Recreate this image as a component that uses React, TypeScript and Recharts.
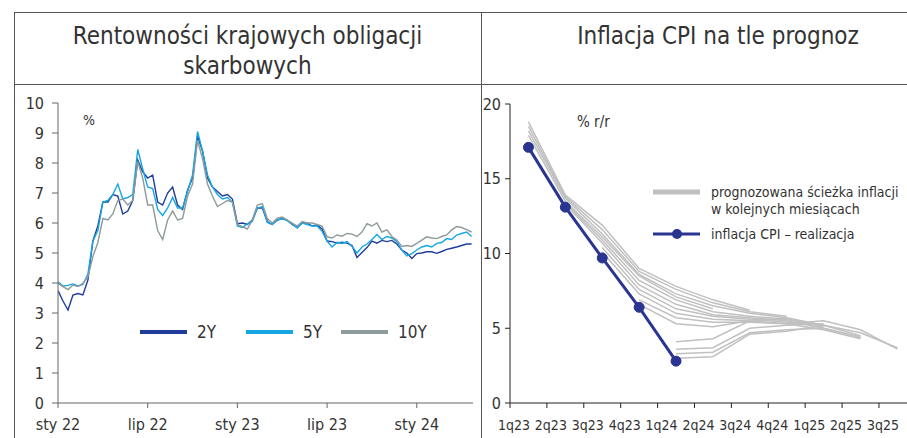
import React from 'react';
import { LineChart, Line, XAxis, YAxis, Legend } from 'recharts';

const FONT = "'Liberation Sans Narrow', 'DejaVu Sans Condensed', sans-serif";
const TEXT = '#333';
const FRAME = '#555';

// --- left panel: bond yields, sampled ~every 10 days from Jan 2022 ---
const YIELD_TICKS = [0, 6, 12, 18, 24];
const YIELD_TICK_LABELS = ['sty 22', 'lip 22', 'sty 23', 'lip 23', 'sty 24'];

const Y2 = [
  3.75, 3.4, 3.1, 3.6, 3.65, 3.6, 4.1, 5.4, 5.9, 6.7, 6.7, 6.95, 6.9, 6.3, 6.4, 6.75,
  8.1, 7.7, 7.5, 7.6, 6.7, 6.6, 7.0, 7.2, 6.6, 6.45, 7.1, 7.5, 8.9, 8.4, 7.5, 7.2,
  7.05, 6.9, 6.95, 6.8, 5.98, 6.0, 5.95, 6.1, 6.5, 6.5, 6.05, 5.95, 6.1, 6.15, 6.1, 5.95,
  5.85, 6.0, 6.0, 5.9, 5.93, 5.8, 5.4, 5.38, 5.33, 5.36, 5.33, 5.25, 4.85, 5.02, 5.18, 5.4,
  5.33, 5.42, 5.38, 5.42, 5.3, 5.1, 5.0, 4.82, 4.98, 5.0, 5.04, 5.04, 4.99, 5.05, 5.12, 5.16,
  5.2, 5.25, 5.3, 5.3,
];
const Y5 = [
  4.04, 3.9, 3.92, 3.97, 3.9, 3.95, 4.3, 5.4, 5.75, 6.7, 6.75, 6.95, 7.3, 6.8, 6.85, 6.95,
  8.45, 7.8, 7.2, 7.15, 6.45, 6.25, 6.5, 6.85, 6.5, 6.5, 7.05, 7.6, 9.05, 8.4, 7.6, 7.2,
  6.95, 6.8, 6.85, 6.7, 5.9, 5.85, 5.97, 6.05, 6.5, 6.55, 6.02, 5.95, 6.1, 6.15, 6.08, 5.97,
  5.83, 6.0, 5.95, 5.9, 5.9, 5.72, 5.4, 5.2, 5.36, 5.32, 5.38, 5.22, 5.0, 5.2, 5.3, 5.45,
  5.62, 5.45, 5.55, 5.5, 5.38, 5.1, 4.9, 4.98, 5.1, 5.2, 5.25, 5.2, 5.32, 5.35, 5.48, 5.45,
  5.6, 5.65, 5.7, 5.55,
];
const Y10 = [
  3.99, 3.88, 3.78, 3.93, 3.88, 3.99, 4.2, 4.88, 5.35, 6.15, 6.1, 6.3, 6.75, 6.8, 6.6, 6.75,
  8.05, 7.5, 6.6, 6.6, 5.75, 5.45, 6.1, 6.4, 6.1, 6.15, 6.9, 7.3, 8.75, 8.15, 7.3, 6.9,
  6.55, 6.65, 6.75, 6.7, 5.95, 5.88, 5.8, 6.1, 6.6, 6.65, 6.15, 6.0, 6.16, 6.2, 6.1, 6.0,
  5.9, 6.05, 6.0, 6.0, 5.95, 5.9, 5.54, 5.5, 5.6, 5.56, 5.65, 5.63, 5.55, 5.7, 5.98, 5.9,
  6.0, 5.7, 5.77, 5.55, 5.43, 5.22, 5.25, 5.22, 5.32, 5.43, 5.54, 5.5, 5.48, 5.55, 5.6, 5.77,
  5.88, 5.85, 5.78, 5.7,
];

const yieldData = Y2.map((v, i) => ({ m: i / 3, y2: v, y5: Y5[i], y10: Y10[i] }));

const YIELD_SERIES = [
  { key: 'y2', name: '2Y', color: '#1f3c9a' },
  { key: 'y5', name: '5Y', color: '#16a6e4' },
  { key: 'y10', name: '10Y', color: '#8e9a9b' },
];

// --- right panel: CPI vs forecasts, quarterly ---
const QUARTERS = ['1q23', '2q23', '3q23', '4q23', '1q24', '2q24', '3q24', '4q24', '1q25', '2q25', '3q25'];
const CPI_ACTUAL = [17.1, 13.1, 9.7, 6.4, 2.8];
const FORECASTS: (number | null)[][] = [
  [18.8, 13.9, 11.9, 9.0, 7.8, 6.9, 6.2],
  [18.5, 13.8, 11.6, 8.8, 7.6, 6.7, 6.1, 5.8],
  [18.2, 13.7, 11.3, 8.6, 7.3, 6.5, 6.0, 5.7],
  [17.9, 13.5, 11.1, 8.5, 7.1, 6.3],
  [null, 13.4, 10.9, 8.2, 6.9, 6.1, 5.8, 5.6, 5.2],
  [null, 13.3, 10.7, 7.9, 6.6, 5.9, 5.7, 5.5, 5.0, 4.4],
  [null, null, 10.4, 7.6, 6.3, 5.8, 5.6, 5.4, 5.2, 4.7, 3.7],
  [null, null, 10.1, 7.3, 6.0, 5.6, 5.5, 5.3, 4.9, 4.3],
  [null, null, null, 6.9, 5.7, 5.4, 5.4, 5.3, 5.5, 4.9, 3.6],
  [null, null, null, 6.6, 5.3, 5.1, 5.5, 5.6, 5.1],
  [null, null, null, null, 4.1, 4.3, 5.5, 5.7, 5.2, 4.5],
  [null, null, null, null, 3.6, 3.7, 5.0, 5.2, 5.3],
  [null, null, null, null, 3.3, 3.4, 4.7, 4.9, 5.0, 4.4],
  [null, null, null, null, 3.0, 3.1, 4.6, 4.8, 5.2],
];

const cpiData = QUARTERS.map((q, i) => {
  const row: Record<string, number | string | null> = { q, x: i + 0.5, actual: CPI_ACTUAL[i] ?? null };
  FORECASTS.forEach((f, j) => {
    row['f' + j] = f[i] ?? null;
  });
  return row;
});

const FC_COLOR = '#c0c0c0';
const CPI_COLOR = '#2a3491';

const YieldLegend = () => (
  <svg width={300} height={24} style={{ overflow: 'visible' }}>
    {YIELD_SERIES.map((s, i) => {
      const x0 = [0, 106, 201][i];
      return (
        <g key={s.key}>
          <line x1={x0} x2={x0 + 47} y1={12} y2={12} stroke={s.color} strokeWidth={4} />
          <text x={x0 + 57} y={12} dy="0.35em" fontSize={17} fill={TEXT} fontFamily={FONT}>
            {s.name}
          </text>
        </g>
      );
    })}
  </svg>
);

const CpiLegend = () => (
  <svg width={254} height={70} style={{ overflow: 'visible' }}>
    <line x1={0} x2={47} y1={12} y2={12} stroke={FC_COLOR} strokeWidth={5} />
    <text x={58} y={12} dy="0.35em" fontSize={14} fill={TEXT} fontFamily={FONT}>
      prognozowana ścieżka inflacji
    </text>
    <text x={58} y={29} dy="0.35em" fontSize={14} fill={TEXT} fontFamily={FONT}>
      w kolejnych miesiącach
    </text>
    <line x1={0} x2={47} y1={54} y2={54} stroke={CPI_COLOR} strokeWidth={3} />
    <circle cx={24} cy={54} r={5} fill={CPI_COLOR} />
    <text x={58} y={54} dy="0.35em" fontSize={14} fill={TEXT} fontFamily={FONT}>
      inflacja CPI – realizacja
    </text>
  </svg>
);

export default function App() {
  return (
    <div
      style={{
        position: 'absolute',
        left: 0,
        top: 0,
        width: 907,
        height: 438,
        background: '#fff',
        fontFamily: FONT,
        color: TEXT,
        overflow: 'hidden',
      }}
    >
      {/* frame */}
      <div style={{ position: 'absolute', left: 14, top: 12, width: 893, height: 0, borderTop: `1px solid ${FRAME}` }} />
      <div style={{ position: 'absolute', left: 14, top: 84, width: 893, height: 0, borderTop: `1px solid ${FRAME}` }} />
      <div style={{ position: 'absolute', left: 14, top: 12, width: 0, height: 426, borderLeft: `1px solid ${FRAME}` }} />
      <div style={{ position: 'absolute', left: 481, top: 12, width: 0, height: 426, borderLeft: `1px solid ${FRAME}` }} />

      {/* titles */}
      <div
        style={{
          position: 'absolute', left: 14, top: 21, width: 467, textAlign: 'center',
          fontSize: 24, lineHeight: '30px', fontWeight: 300,
        }}
      >
        Rentowności krajowych obligacji
        <br />
        skarbowych
      </div>
      <div
        style={{
          position: 'absolute', left: 530, top: 21, width: 376, textAlign: 'center',
          fontSize: 24, lineHeight: '30px', fontWeight: 300,
        }}
      >
        Inflacja CPI na tle prognoz
      </div>

      {/* left chart */}
      <div style={{ position: 'absolute', left: 0, top: 90 }}>
        <LineChart width={480} height={348} data={yieldData} margin={{ top: 13, right: 7, bottom: 0, left: 0 }}>
          <XAxis
            type="number"
            dataKey="m"
            domain={[0, 27.76]}
            ticks={YIELD_TICKS}
            interval={0}
            height={35}
            tickFormatter={(v: number) => YIELD_TICK_LABELS[YIELD_TICKS.indexOf(v)] ?? ''}
            stroke="#666"
            tickSize={5}
            tickMargin={11}
            tick={{ fontSize: 16, fill: TEXT, fontFamily: FONT }}
            allowDataOverflow
          />
          <YAxis
            domain={[0, 10]}
            ticks={[0, 1, 2, 3, 4, 5, 6, 7, 8, 9, 10]}
            interval={0}
            width={58}
            stroke="#666"
            tickSize={6}
            tickMargin={8}
            tick={{ fontSize: 16, fill: TEXT, fontFamily: FONT }}
          />
          {YIELD_SERIES.map((s) => (
            <Line
              key={s.key}
              dataKey={s.key}
              name={s.name}
              stroke={s.color}
              strokeWidth={1.4}
              dot={false}
              type="linear"
              isAnimationActive={false}
            />
          ))}
          <Legend
            layout="vertical"
            align="center"
            verticalAlign="middle"
            wrapperStyle={{ left: 140, top: 230 }}
            content={() => <YieldLegend />}
          />
        </LineChart>
        <div style={{ position: 'absolute', left: 83, top: 22, fontSize: 14 }}>%</div>
      </div>

      {/* right chart */}
      <div style={{ position: 'absolute', left: 481, top: 90 }}>
        <LineChart width={426} height={348} data={cpiData} margin={{ top: 14, right: 0, bottom: 0, left: 0 }}>
          <XAxis
            type="number"
            dataKey="x"
            domain={[0, 10.76]}
            ticks={QUARTERS.map((_, i) => i)}
            interval={0}
            height={35}
            tickFormatter={(v: number) => QUARTERS[v] ?? ''}
            stroke="#222"
            tickSize={5}
            tickMargin={12}
            tick={{ fontSize: 14, fill: TEXT, fontFamily: FONT, dx: 4 }}
            allowDataOverflow
          />
          <YAxis
            domain={[0, 20]}
            ticks={[0, 5, 10, 15, 20]}
            interval={0}
            width={29}
            stroke="#222"
            tickSize={5}
            tickMargin={4}
            tick={{ fontSize: 16, fill: TEXT, fontFamily: FONT }}
          />
          {FORECASTS.map((_, j) => (
            <Line
              key={'f' + j}
              dataKey={'f' + j}
              stroke={FC_COLOR}
              strokeWidth={1.5}
              dot={false}
              type="linear"
              legendType="none"
              isAnimationActive={false}
            />
          ))}
          <Line
            dataKey="actual"
            stroke={CPI_COLOR}
            strokeWidth={3}
            dot={{ r: 5, fill: CPI_COLOR, stroke: CPI_COLOR, strokeWidth: 1 }}
            type="linear"
            isAnimationActive={false}
          />
          <Legend
            layout="vertical"
            align="center"
            verticalAlign="middle"
            wrapperStyle={{ left: 172, top: 90 }}
            content={() => <CpiLegend />}
          />
        </LineChart>
        <div style={{ position: 'absolute', left: 96, top: 23, fontSize: 15 }}>% r/r</div>
      </div>
    </div>
  );
}
